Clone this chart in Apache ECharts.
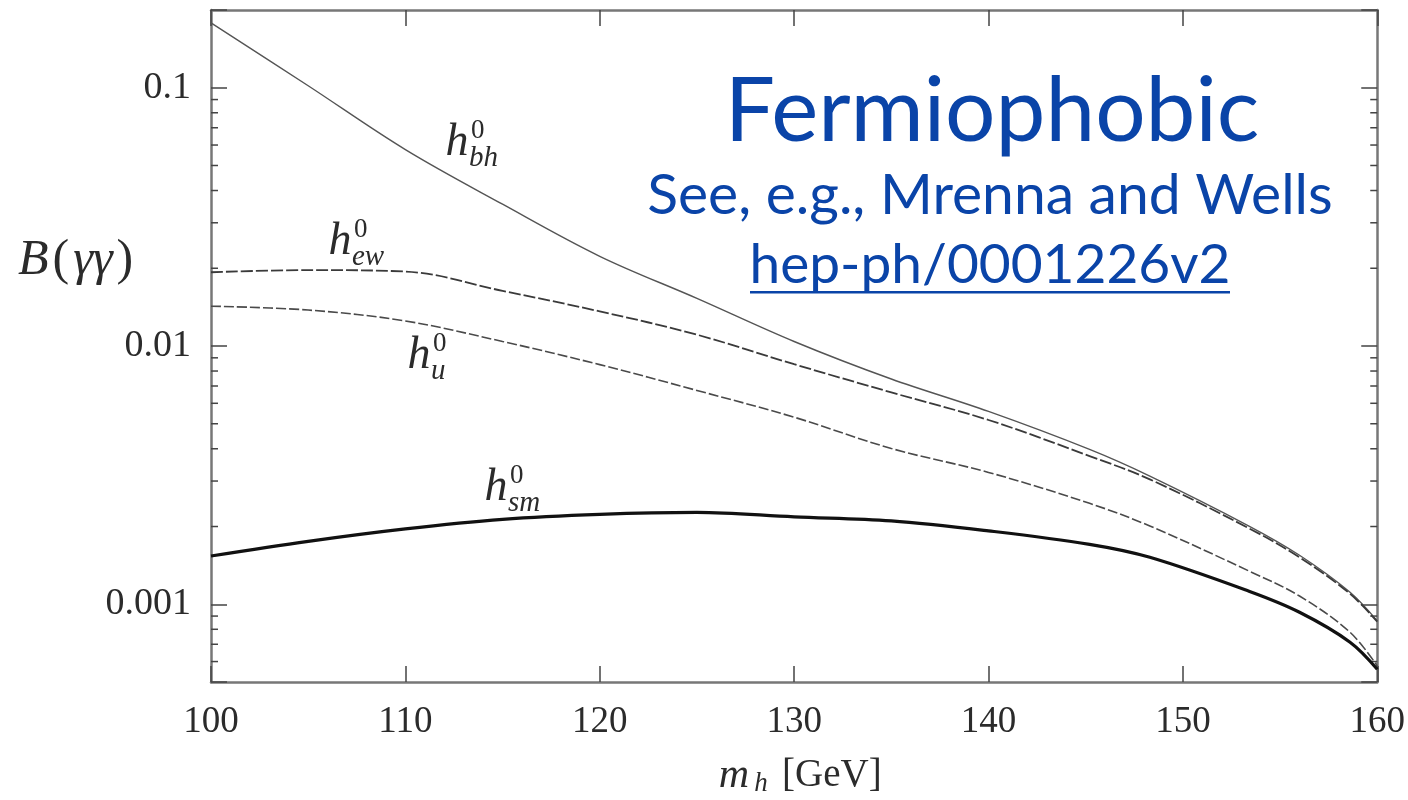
<!DOCTYPE html>
<html>
<head>
<meta charset="utf-8">
<script src="https://cdn.jsdelivr.net/npm/echarts@6/dist/echarts.min.js"></script>
<style>
  html, body { margin: 0; padding: 0; background: #fff; }
  #chart { width: 1408px; height: 800px; }
</style>
</head>
<body>
<div id="chart"></div>
<script>
// Higgs mass in GeV
const massGeV = [100, 105, 110, 115, 120, 125, 130, 135, 140, 145.2, 148.3, 153.4, 156, 158.6, 160];
// Branching ratio to two photons for each model
const brBH = [0.1784, 0.1018, 0.0576, 0.0354, 0.02225, 0.01529, 0.01041, 0.00745, 0.00558, 0.003977, 0.003135, 0.002009, 0.001548, 0.001113, 0.000862];
const brEW = [0.0193, 0.01968, 0.01942, 0.01635, 0.01362, 0.01106, 0.00850, 0.00661, 0.00517, 0.003748, 0.003045, 0.001968, 0.00152, 0.001098, 0.000856];
const brU  = [0.01426, 0.01378, 0.0125, 0.01041, 0.00847, 0.00673, 0.0053, 0.00401, 0.00324, 0.002459, 0.002009, 0.001345, 0.001076, 0.000779, 0.000577];
const brSM = [0.001538, 0.001753, 0.001959, 0.002132, 0.002229, 0.002269, 0.002181, 0.002104, 0.001924, 0.001706, 0.00152, 0.001123, 0.000931, 0.000713, 0.00056];

// Axis ticks
const xTicks = [100, 110, 120, 130, 140, 150, 160];
const yTickValues = [0.001, 0.01, 0.1];
const yTickLabels = ['0.001', '0.01', '0.1'];
const yMin = 0.0005, yMax = 0.2;
const minorMultiples = [2, 3, 4, 5, 6, 7, 8, 9];
const decades = [0.0001, 0.001, 0.01, 0.1];

const minorTickValues = [];
decades.forEach(d => minorMultiples.forEach(k => {
  const v = +(k * d).toPrecision(6);
  if (v > yMin && v < yMax) minorTickValues.push(v);
}));

const pair = (xs, ys) => xs.map((x, i) => [x, ys[i]]);

const serif = '"Liberation Serif", "DejaVu Serif", serif';
const sans = 'Lato, "Open Sans", sans-serif';
const ink = '#2b2b2b';
const frame = '#777';
const blue = '#0a44a8';

const chart = echarts.init(document.getElementById('chart'));

const xAxisBase = {
  type: 'value', min: xTicks[0], max: xTicks[xTicks.length - 1], interval: 10,
  axisLine: { show: true, lineStyle: { color: frame, width: 2.5 } },
  axisTick: { show: true, inside: true, length: 16, lineStyle: { color: '#444', width: 1.5 } },
  splitLine: { show: false }
};
const yAxisBase = {
  type: 'log', logBase: 10, min: yMin, max: yMax,
  axisLine: { show: true, lineStyle: { color: frame, width: 2.5 } },
  axisTick: { show: true, inside: true, length: 16, lineStyle: { color: '#444', width: 1.5 } },
  splitLine: { show: false }
};

function yLabel(v) {
  for (let i = 0; i < yTickValues.length; i++) {
    if (Math.abs(v - yTickValues[i]) / yTickValues[i] < 1e-6) return yTickLabels[i];
  }
  return '';
}

function curveLabel(x, y, main, sup, sub) {
  return {
    type: 'group',
    children: [
      { type: 'text', style: { x: x, y: y, text: main, font: 'italic 46px ' + serif, fill: ink, textAlign: 'center', textVerticalAlign: 'middle' } },
      { type: 'text', style: { x: x + 14, y: y - 12, text: sup, font: '27px ' + serif, fill: ink, textAlign: 'left', textVerticalAlign: 'middle' } },
      { type: 'text', style: { x: x + 12, y: y + 15, text: sub, font: 'italic 29px ' + serif, fill: ink, textAlign: 'left', textVerticalAlign: 'middle' } }
    ]
  };
}

const lineCommon = { type: 'line', smooth: 0.35, symbol: 'none' };

chart.setOption({
  animation: false,
  backgroundColor: '#fff',
  grid: { left: 211, right: 30, top: 10, bottom: 118, containLabel: false },
  xAxis: [
    Object.assign({}, xAxisBase, {
      position: 'bottom',
      axisLabel: { show: true, margin: 22, fontFamily: serif, fontSize: 37, color: ink }
    }),
    Object.assign({}, xAxisBase, { position: 'top', axisLabel: { show: false } })
  ],
  yAxis: [
    Object.assign({}, yAxisBase, {
      position: 'left',
      axisLabel: { show: true, margin: 20, fontFamily: serif, fontSize: 38, color: ink, formatter: yLabel }
    }),
    Object.assign({}, yAxisBase, { position: 'right', axisLabel: { show: false } })
  ],
  series: [
    Object.assign({ name: 'h_bh', data: pair(massGeV, brBH), lineStyle: { color: '#555', width: 1.4 } }, lineCommon),
    Object.assign({ name: 'h_ew', data: pair(massGeV, brEW), lineStyle: { color: '#3a3a3a', width: 1.8, type: [12, 3] } }, lineCommon),
    Object.assign({ name: 'h_u', data: pair(massGeV, brU), lineStyle: { color: '#4a4a4a', width: 1.6, type: [10, 3] } }, lineCommon),
    Object.assign({ name: 'h_sm', data: pair(massGeV, brSM), lineStyle: { color: '#111', width: 3.2 } }, lineCommon),
    {
      // minor log ticks on both vertical edges
      name: 'minorTicks', type: 'custom', silent: true, clip: false,
      data: minorTickValues.map(v => [xTicks[0], v]),
      renderItem: function (params, api) {
        const v = api.value(1);
        const l = api.coord([xTicks[0], v]);
        const r = api.coord([xTicks[xTicks.length - 1], v]);
        const st = { stroke: '#444', lineWidth: 1.5 };
        return {
          type: 'group',
          children: [
            { type: 'line', shape: { x1: l[0], y1: l[1], x2: l[0] + 7, y2: l[1] }, style: st },
            { type: 'line', shape: { x1: r[0], y1: r[1], x2: r[0] - 7, y2: r[1] }, style: st }
          ]
        };
      }
    }
  ],
  graphic: [
    // y-axis title  B(γγ)
    {
      type: 'text', left: 18, top: 236,
      style: {
        text: '{i|B}{r|(}{i|γγ}{r|)}',
        rich: {
          i: { font: 'italic 50px ' + serif, fill: ink, padding: [0, 3, 0, 3] },
          r: { font: '50px ' + serif, fill: ink, padding: [0, 1, 0, 1] }
        }
      }
    },
    // x-axis title  m_h [GeV]
    { type: 'text', style: { x: 734, y: 776, text: 'm', font: 'italic 42px ' + serif, fill: ink, textAlign: 'center', textVerticalAlign: 'middle' } },
    { type: 'text', style: { x: 761, y: 784, text: 'h', font: 'italic 27px ' + serif, fill: ink, textAlign: 'center', textVerticalAlign: 'middle' } },
    { type: 'text', style: { x: 782, y: 776, text: '[GeV]', font: '39px ' + serif, fill: ink, textAlign: 'left', textVerticalAlign: 'middle' } },
    // curve labels
    curveLabel(457, 143, 'h', '0', 'bh'),
    curveLabel(340, 242, 'h', '0', 'ew'),
    curveLabel(419, 356, 'h', '0', 'u'),
    curveLabel(496, 488, 'h', '0', 'sm'),
    // heading and reference
    { type: 'text', style: { x: 992, y: 112, text: 'Fermiophobic', font: '89px ' + sans, fill: blue, textAlign: 'center', textVerticalAlign: 'middle' } },
    { type: 'text', style: { x: 990, y: 196, text: 'See, e.g., Mrenna and Wells', font: '57px ' + sans, fill: blue, textAlign: 'center', textVerticalAlign: 'middle' } },
    { type: 'text', style: { x: 990, y: 265, text: 'hep-ph/0001226v2', font: '55px ' + sans, fill: blue, textAlign: 'center', textVerticalAlign: 'middle' } },
    { type: 'rect', shape: { x: 750, y: 291, width: 480, height: 2.5 }, style: { fill: blue } }
  ]
});
</script>
</body>
</html>
